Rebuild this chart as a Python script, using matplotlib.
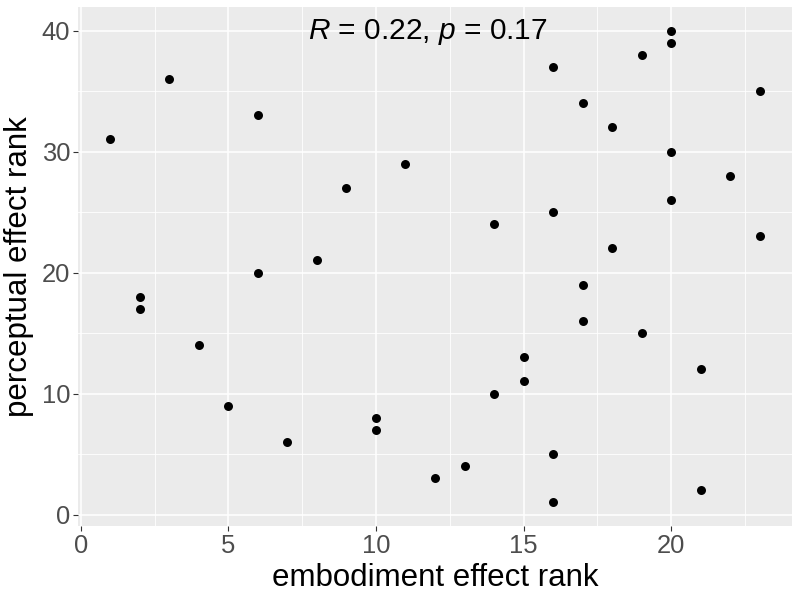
import matplotlib
matplotlib.use("Agg")
import matplotlib.pyplot as plt
from matplotlib.ticker import MultipleLocator

plt.rcParams['font.family'] = ['Liberation Sans', 'DejaVu Sans']
plt.rcParams['mathtext.fontset'] = 'custom'
plt.rcParams['mathtext.rm'] = 'Liberation Sans'
plt.rcParams['mathtext.it'] = 'Liberation Sans:italic'

# embodiment rank vs perceptual rank
embodiment = [1, 3, 2, 2, 4, 5, 6, 6, 7, 8, 9, 10, 10, 11, 12, 13, 14, 14, 15, 15,
              16, 16, 16, 16, 17, 17, 17, 18, 18, 19, 19, 20, 20, 20, 20, 22, 21, 21, 23, 23]
perceptual = [31, 36, 18, 17, 14, 9, 33, 20, 6, 21, 27, 8, 7, 29, 3, 4, 24, 10, 13, 11,
              37, 25, 5, 1, 34, 19, 16, 32, 22, 38, 15, 40, 39, 30, 26, 28, 12, 2, 35, 23]

r_value = 0.22
p_value = 0.17

fig = plt.figure(figsize=(8, 6), dpi=100)
ax = fig.add_axes([0.0975, 0.1233, 0.8925, 0.865])
ax.set_facecolor('#EBEBEB')
for s in ax.spines.values():
    s.set_visible(False)

ax.scatter(embodiment, perceptual, s=42, color='black', zorder=3, linewidths=0)

ax.set_xlim(-0.1, 24.1)
ax.set_ylim(-0.95, 41.95)
ax.xaxis.set_major_locator(MultipleLocator(5))
ax.xaxis.set_minor_locator(MultipleLocator(2.5))
ax.yaxis.set_major_locator(MultipleLocator(10))
ax.yaxis.set_minor_locator(MultipleLocator(5))
ax.grid(which='major', color='white', linewidth=1.1)
ax.grid(which='minor', color='white', linewidth=0.6)
ax.set_axisbelow(True)

ax.tick_params(which='major', length=3.5, width=0.8, color='#333333',
               labelsize=18.4, labelcolor='#4D4D4D', pad=2)
ax.tick_params(which='minor', length=0)

ax.set_xlabel('embodiment effect rank', fontsize=22.5, labelpad=4)
ax.set_ylabel('perceptual effect rank', fontsize=22.5, labelpad=6)

ax.text(11.76, 39.34, r'$\it{R}$ = %.2f, $\it{p}$ = %.2f' % (r_value, p_value),
        ha='center', va='baseline', fontsize=21.5)

fig.savefig('out.png', dpi=100)
